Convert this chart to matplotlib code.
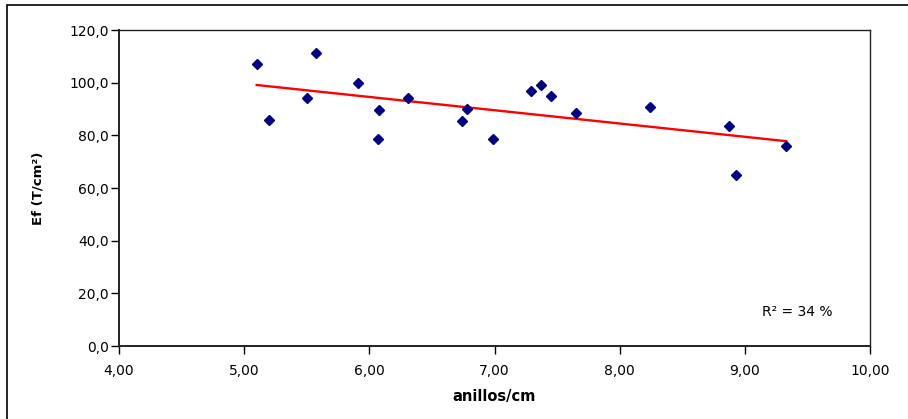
import matplotlib
matplotlib.use("Agg")
import matplotlib.pyplot as plt
from matplotlib.patches import Rectangle
from matplotlib.ticker import FuncFormatter
import numpy as np

plt.rcParams["font.family"] = ["DejaVu Sans"]

# anillos/cm vs Ef (T/cm2)
anillos = [5.10, 5.20, 5.50, 5.57, 5.91, 6.07, 6.08, 6.31, 6.74, 6.78,
           6.99, 7.29, 7.37, 7.45, 7.65, 8.24, 8.87, 8.93, 9.33]
ef = [107.0, 85.8, 94.2, 111.3, 99.9, 78.7, 89.7, 94.2, 85.4, 90.1,
      78.7, 96.8, 99.0, 94.9, 88.5, 90.6, 83.5, 65.0, 76.0]
r2_text = "R² = 34 %"

x = np.array(anillos)
y = np.array(ef)
coef = np.polyfit(x, y, 1)
xl = np.array([x.min(), x.max()])

fig = plt.figure(figsize=(9.08, 4.19), dpi=100)
ax = fig.add_axes([119 / 908, 1 - 346 / 419, 751 / 908, 316 / 419])

# marco exterior
fig.patches.append(Rectangle((7 / 908, -0.05), 1.0, 1 - 5 / 419 + 0.05,
                             transform=fig.transFigure, fill=False,
                             edgecolor="black", linewidth=1.2))

ax.plot(xl, np.polyval(coef, xl), color="red", linewidth=1.7, zorder=2)
ax.plot(x, y, linestyle="none", marker="D", markersize=5.5,
        color="#000080", zorder=3)

ax.set_xlim(4, 10)
ax.set_ylim(0, 120)
ax.set_xticks(np.arange(4, 10.01, 1))
ax.set_yticks(np.arange(0, 120.1, 20))
ax.xaxis.set_major_formatter(FuncFormatter(lambda v, p: f"{v:.2f}".replace(".", ",")))
ax.yaxis.set_major_formatter(FuncFormatter(lambda v, p: f"{v:.1f}".replace(".", ",")))
ax.tick_params(direction="out", length=6, width=1, labelsize=10,
               top=False, right=False)
ax.tick_params(axis="y", pad=1.5)
ax.tick_params(axis="x", pad=7)
for s in ax.spines.values():
    s.set_color("#222222")
    s.set_linewidth(1)
ax.spines["bottom"].set_linewidth(1.4)
ax.spines["left"].set_linewidth(1.4)

ax.set_xlabel("anillos/cm", fontsize=10.5, fontweight="bold", labelpad=8)
ax.set_ylabel("Ef (T/cm²)", fontsize=9.5, fontweight="bold", labelpad=18)

ax.text(0.903, 0.108, r2_text, transform=ax.transAxes, fontsize=10,
        ha="center", va="center")

fig.savefig("out.png", dpi=100)
